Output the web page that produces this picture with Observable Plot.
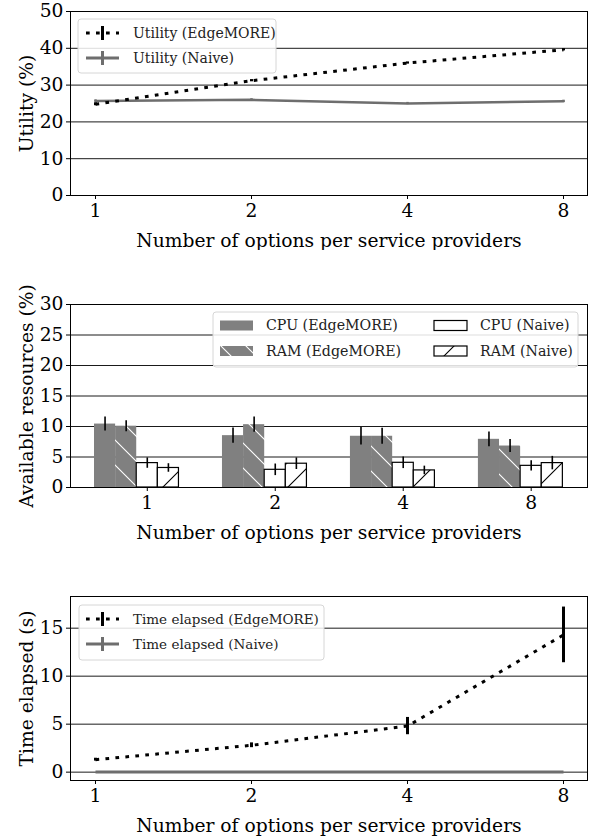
<!DOCTYPE html>
<html>
<head>
<meta charset="utf-8">
<script src="https://cdn.jsdelivr.net/npm/d3@7"></script>
<script src="https://cdn.jsdelivr.net/npm/@observablehq/plot@0.6"></script>
<style>
  html, body { margin: 0; padding: 0; background: white; }
  #chart { width: 590px; }
  #chart svg { display: block; }
</style>
</head>
<body>
<div id="chart"></div>
<script>
// ---------- data ----------
const options = ["1", "2", "4", "8"];
const xLabel = "Number of options per service providers";

// Panel 1: utility (%)
const utilEdge = [24.8, 31.2, 36.0, 39.6];
const utilEdgeErr = [0.4, 0.3, 0.3, 0.3];
const utilNaive = [25.7, 26.0, 25.0, 25.6];
const utilNaiveErr = [0.3, 0.3, 0.3, 0.3];

// Panel 2: available resources (%)
const cpuEdge = [10.4, 8.5, 8.4, 7.9];
const cpuEdgeErr = [1.15, 1.25, 1.45, 1.2];
const ramEdge = [10.05, 10.3, 8.4, 6.8];
const ramEdgeErr = [0.9, 1.25, 1.3, 1.05];
const cpuNaive = [4.0, 2.9, 4.05, 3.55];
const cpuNaiveErr = [0.85, 0.95, 0.95, 0.85];
const ramNaive = [3.2, 3.9, 2.8, 4.0];
const ramNaiveErr = [0.7, 0.95, 0.7, 1.1];

// Panel 3: time elapsed (s)
const timeEdge = [1.3, 2.8, 4.8, 14.3];
const timeEdgeErr = [0.15, 0.25, 0.9, 2.9];
const timeNaive = [0.02, 0.02, 0.02, 0.02];
const timeNaiveErr = [0, 0, 0, 0];

// ---------- styling ----------
const FONT = "'DejaVu Serif', serif";
const AXIS_FS = 18.7;
const GRAY_LINE = "#6e6e6e";
const GRAY_BAR = "#808080";
const DOTS = "3.7 6.3";
const chart = document.getElementById("chart");

const rows = (vals, errs) => options.map((o, i) => ({opt: o, g: i, v: vals[i], e: errs[i]}));

function axes(yTicks, yLabel, xOpts) {
  return [
    Plot.axisY({ticks: yTicks, tickSize: 4, tickPadding: 3, fontSize: AXIS_FS,
      label: yLabel, labelAnchor: "center", labelOffset: 51, labelArrow: "none"}),
    Plot.axisX(Object.assign({tickSize: 4, tickPadding: 4, fontSize: AXIS_FS,
      label: xLabel, labelAnchor: "center", labelOffset: 51, labelArrow: "none"}, xOpts || {}))
  ];
}

function legendBox(svg, box, items, fontSize) {
  const g = d3.select(svg).append("g").attr("font-family", FONT).attr("font-size", fontSize)
    .attr("text-anchor", "start");
  g.append("rect").attr("x", box.x).attr("y", box.y).attr("width", box.w).attr("height", box.h)
    .attr("rx", 3).attr("fill", "white").attr("fill-opacity", 0.85).attr("stroke", "#d6d6d6");
  for (const it of items) {
    const h = g.append("g");
    it.draw(h, it);
    h.append("text").attr("x", it.tx).attr("y", it.y).attr("dy", "0.35em")
      .attr("text-anchor", "start").attr("fill", "#222").text(it.label);
  }
}

const lineHandle = (dotted, color) => (h, it) => {
  h.append("line").attr("x1", it.hx).attr("x2", it.hx + 33).attr("y1", it.y).attr("y2", it.y)
    .attr("stroke", color).attr("stroke-width", 3).attr("stroke-dasharray", dotted ? DOTS : null);
  h.append("line").attr("x1", it.hx + 16.5).attr("x2", it.hx + 16.5).attr("y1", it.y - 7).attr("y2", it.y + 7)
    .attr("stroke", color).attr("stroke-width", 3);
};

const baseStyle = {fontFamily: FONT, fontSize: `${AXIS_FS}px`, color: "black", background: "white"};

// ---------- panel 1 ----------
const p1 = Plot.plot({
  width: 590, height: 250,
  marginLeft: 70, marginRight: 3, marginTop: 11, marginBottom: 55,
  style: baseStyle,
  x: {type: "point", domain: options, padding: 0.15},
  y: {domain: [0, 50]},
  marks: [
    Plot.gridY({ticks: [10, 20, 30, 40], stroke: "black", strokeOpacity: 1, strokeWidth: 0.9}),
    ...axes(d3.range(0, 51, 10), "Utility (%)"),
    Plot.line(rows(utilNaive, utilNaiveErr), {x: "opt", y: "v", stroke: GRAY_LINE, strokeWidth: 2.5}),
    Plot.ruleX(rows(utilNaive, utilNaiveErr), {x: "opt", y1: d => d.v - d.e, y2: d => d.v + d.e, stroke: GRAY_LINE, strokeWidth: 2.5}),
    Plot.line(rows(utilEdge, utilEdgeErr), {x: "opt", y: "v", stroke: "black", strokeWidth: 3, strokeDasharray: DOTS, strokeLinecap: "butt"}),
    Plot.ruleX(rows(utilEdge, utilEdgeErr), {x: "opt", y1: d => d.v - d.e, y2: d => d.v + d.e, stroke: "black", strokeWidth: 3}),
    Plot.frame({stroke: "black", strokeWidth: 1})
  ]
});
chart.appendChild(p1);
legendBox(p1, {x: 78, y: 19, w: 198, h: 54}, [
  {y: 33, hx: 86, tx: 133, label: "Utility (EdgeMORE)", draw: lineHandle(true, "black")},
  {y: 58, hx: 86, tx: 133, label: "Utility (Naive)", draw: lineHandle(false, GRAY_LINE)}
], 14);

// ---------- panel 2 ----------
const barW = 0.165;
const barSeries = [
  {name: "CPU (EdgeMORE)", vals: cpuEdge, errs: cpuEdgeErr, fill: GRAY_BAR, stroke: "none"},
  {name: "RAM (EdgeMORE)", vals: ramEdge, errs: ramEdgeErr, fill: "url(#hatchRamEdge)", stroke: "none"},
  {name: "CPU (Naive)", vals: cpuNaive, errs: cpuNaiveErr, fill: "white", stroke: "black"},
  {name: "RAM (Naive)", vals: ramNaive, errs: ramNaiveErr, fill: "url(#hatchRamNaive)", stroke: "black"}
];
const barRows = barSeries.flatMap((s, i) => rows(s.vals, s.errs).map(r => ({...r, i})));

const p2 = Plot.plot({
  width: 590, height: 295,
  marginLeft: 70, marginRight: 3, marginTop: 54, marginBottom: 58,
  style: baseStyle,
  x: {type: "linear", domain: [-0.60, 3.44]},
  y: {domain: [0, 30]},
  marks: [
    Plot.gridY({ticks: [5, 10, 15, 20, 25], stroke: "black", strokeOpacity: 1, strokeWidth: 0.9}),
    ...axes(d3.range(0, 31, 5), "Available resources (%)", {ticks: [0, 1, 2, 3], tickFormat: i => options[i]}),
    ...barSeries.map((s, i) => Plot.rectY(barRows.filter(r => r.i === i), {
      x1: d => d.g + (d.i - 2.5) * barW, x2: d => d.g + (d.i - 1.5) * barW, y1: 0, y2: "v",
      fill: s.fill, stroke: s.stroke, strokeWidth: 1.2, inset: 0
    })),
    Plot.ruleX(barRows, {x: d => d.g + (d.i - 2) * barW, y1: d => d.v - d.e, y2: d => d.v + d.e, stroke: "black", strokeWidth: 1.6}),
    Plot.frame({stroke: "black", strokeWidth: 1})
  ]
});
chart.appendChild(p2);
{
  const defs = d3.select(p2).insert("defs", ":first-child");
  const s = 25;
  const pe = defs.append("pattern").attr("id", "hatchRamEdge").attr("patternUnits", "userSpaceOnUse")
    .attr("width", s).attr("height", s);
  pe.append("rect").attr("width", s).attr("height", s).attr("fill", GRAY_BAR);
  pe.append("path").attr("d", `M0,0L${s},${s}M${-s},0L${s},${2*s}M0,${-s}L${2*s},${s}`)
    .attr("stroke", "white").attr("stroke-width", 1.1);
  const pn = defs.append("pattern").attr("id", "hatchRamNaive").attr("patternUnits", "userSpaceOnUse")
    .attr("width", s).attr("height", s);
  pn.append("rect").attr("width", s).attr("height", s).attr("fill", "white");
  pn.append("path").attr("d", `M0,${s}L${s},0M${-s},${s}L${s},${-s}M0,${2*s}L${2*s},0`)
    .attr("stroke", "black").attr("stroke-width", 1.1);
}
const rectHandle = (fill, stroke) => (h, it) => {
  h.append("rect").attr("x", it.hx).attr("y", it.y - 5).attr("width", 33).attr("height", 10)
    .attr("fill", fill).attr("stroke", stroke).attr("stroke-width", 1.2);
};
legendBox(p2, {x: 213, y: 62, w: 365, h: 55}, [
  {y: 75.5, hx: 220, tx: 266, label: barSeries[0].name, draw: rectHandle(barSeries[0].fill, "none")},
  {y: 101, hx: 220, tx: 266, label: barSeries[1].name, draw: rectHandle(barSeries[1].fill, "none")},
  {y: 75.5, hx: 434, tx: 480, label: barSeries[2].name, draw: rectHandle("white", "black")},
  {y: 101, hx: 434, tx: 480, label: barSeries[3].name, draw: rectHandle(barSeries[3].fill, "black")}
], 14.2);

// ---------- panel 3 ----------
const p3 = Plot.plot({
  width: 590, height: 291,
  marginLeft: 70, marginRight: 3, marginTop: 51, marginBottom: 56,
  style: baseStyle,
  x: {type: "point", domain: options, padding: 0.15},
  y: {domain: [-0.87, 18.3]},
  marks: [
    Plot.gridY({ticks: [0, 5, 10, 15], stroke: "black", strokeOpacity: 1, strokeWidth: 0.9}),
    ...axes([0, 5, 10, 15], "Time elapsed (s)"),
    Plot.line(rows(timeNaive, timeNaiveErr), {x: "opt", y: "v", stroke: GRAY_LINE, strokeWidth: 3, strokeLinecap: "butt"}),
    Plot.line(rows(timeEdge, timeEdgeErr), {x: "opt", y: "v", stroke: "black", strokeWidth: 3, strokeDasharray: DOTS, strokeLinecap: "butt"}),
    Plot.ruleX(rows(timeEdge, timeEdgeErr), {x: "opt", y1: d => d.v - d.e, y2: d => d.v + d.e, stroke: "black", strokeWidth: 3}),
    Plot.frame({stroke: "black", strokeWidth: 1})
  ]
});
chart.appendChild(p3);
legendBox(p3, {x: 79, y: 60, w: 245, h: 55}, [
  {y: 74, hx: 86, tx: 133, label: "Time elapsed (EdgeMORE)", draw: lineHandle(true, "black")},
  {y: 99, hx: 86, tx: 133, label: "Time elapsed (Naive)", draw: lineHandle(false, GRAY_LINE)}
], 13.5);
</script>
</body>
</html>
